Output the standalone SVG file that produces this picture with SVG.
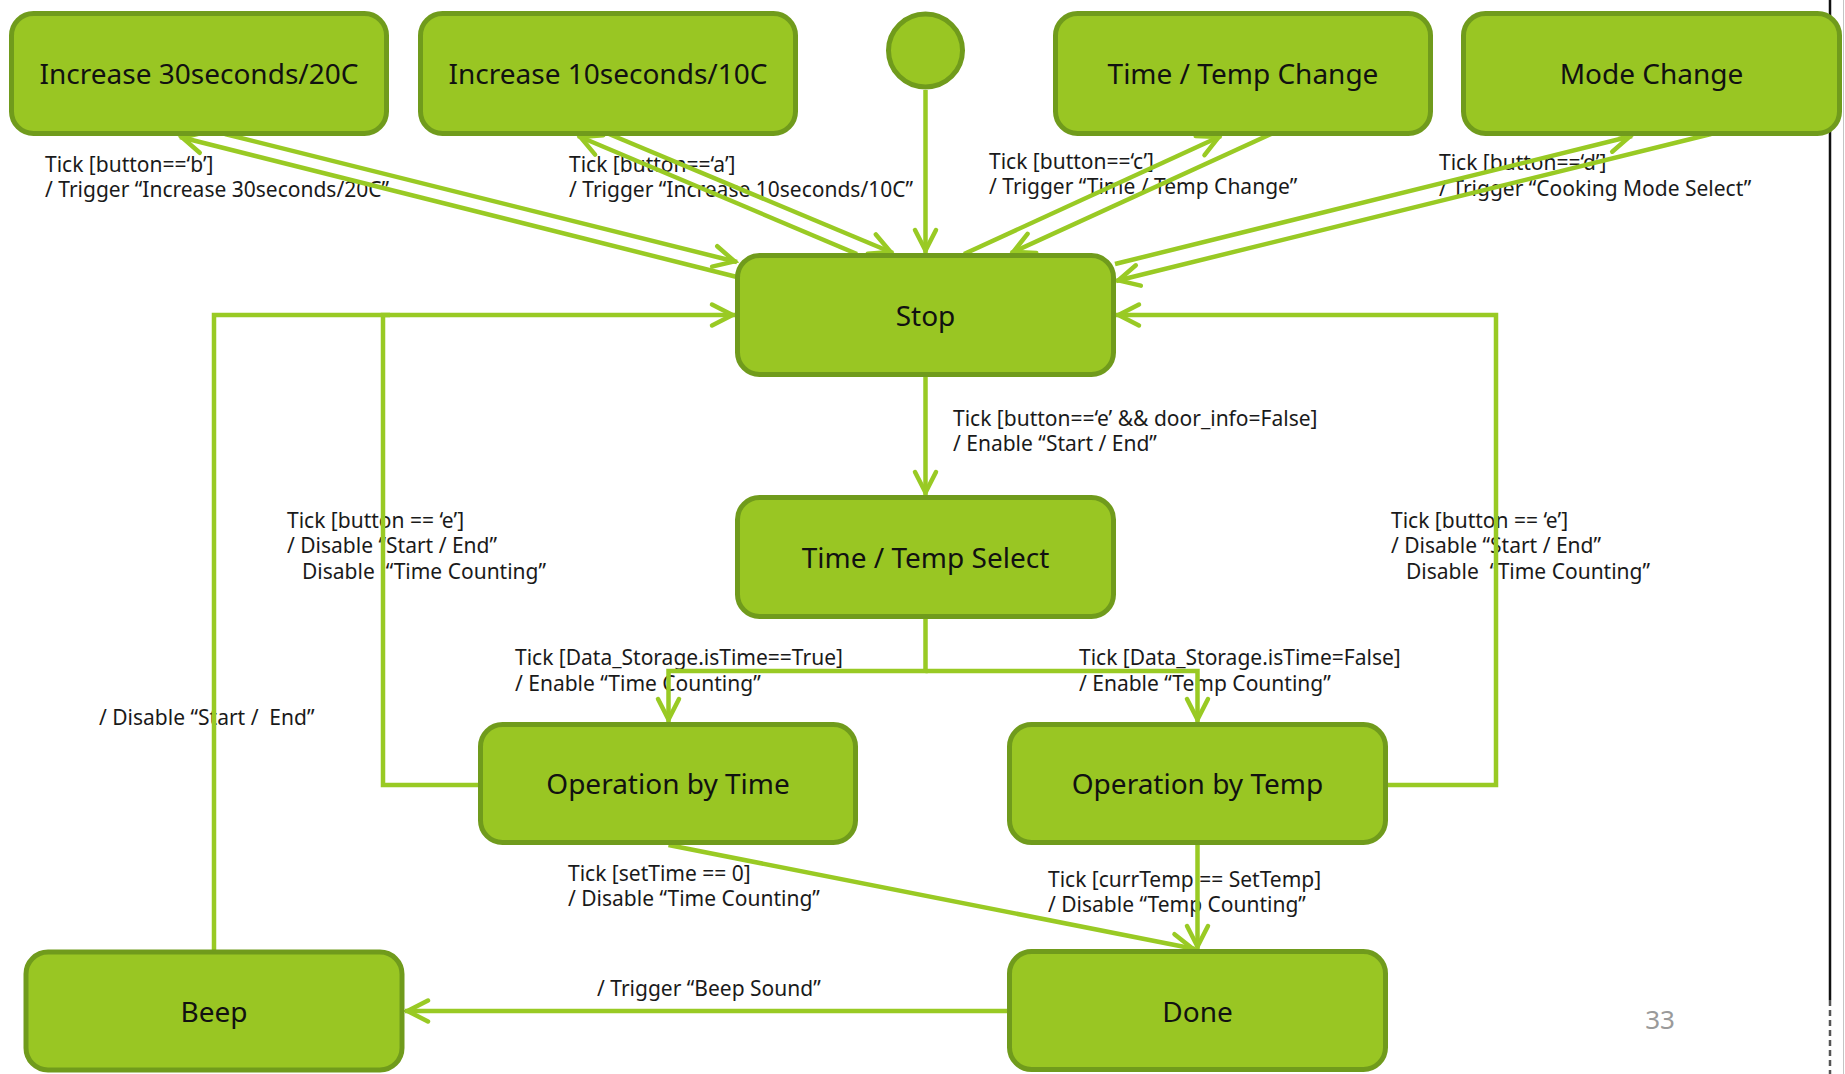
<svg xmlns="http://www.w3.org/2000/svg" width="1845" height="1074" viewBox="0 0 1845 1074">
  <style>
    .node rect, .node ellipse { fill: #99c623; stroke: #709b1c; stroke-width: 5; }
    .title { font-family: "Noto Sans", "Open Sans", sans-serif; font-size: 28px; fill: #111; text-anchor: middle; }
    .lbl { font-family: "Noto Sans", "Open Sans", sans-serif; font-size: 21px; fill: #1a1a1a; white-space: pre; }
    .edge { fill: none; stroke: #99ca24; stroke-width: 4.5; stroke-linejoin: miter; }
    .arr { marker-end: url(#arrow); }
  </style>
  <defs>
    <marker id="arrow" viewBox="-30 -16 34 32" markerWidth="34" markerHeight="32" refX="0" refY="0" orient="auto" markerUnits="userSpaceOnUse">
      <path d="M-23 -10.5 L-2.5 0 L-23 10.5" fill="none" stroke="#99ca24" stroke-width="4.5" stroke-linecap="round"/>
    </marker>
  </defs>

  <rect width="1845" height="1074" fill="#ffffff"/>

  <!-- page frame edge -->
  <g id="frame">
    <line x1="1830" y1="0" x2="1830" y2="1000" stroke="#111" stroke-width="2.5"/>
    <line x1="1830" y1="1000" x2="1830" y2="1074" stroke="#555" stroke-width="2.5" stroke-dasharray="6 4"/>
    <line x1="1843.5" y1="0" x2="1843.5" y2="1074" stroke="#c4c4c4" stroke-width="1"/>
  </g>

  <!-- transition labels -->
  <g id="labels">
    <text class="lbl"><tspan x="45" y="172">Tick [button==‘b’]</tspan><tspan x="45" y="197">/ Trigger “Increase 30seconds/20C”</tspan></text>

    <text class="lbl"><tspan x="569" y="172">Tick [button==‘a’]</tspan><tspan x="569" y="197">/ Trigger “Increase 10seconds/10C”</tspan></text>

    <text class="lbl"><tspan x="989" y="169">Tick [button==‘c’]</tspan><tspan x="989" y="194">/ Trigger “Time / Temp Change”</tspan></text>

    <text class="lbl"><tspan x="1439" y="170">Tick [button==‘d’]</tspan><tspan x="1439" y="196">/ Trigger “Cooking Mode Select”</tspan></text>

    <text class="lbl"><tspan x="953" y="426">Tick [button==‘e’ &amp;&amp; door_info=False]</tspan><tspan x="953" y="451">/ Enable “Start / End”</tspan></text>

    <text class="lbl"><tspan x="287" y="528">Tick [button == ‘e’]</tspan><tspan x="287" y="553">/ Disable “Start / End”</tspan><tspan x="302" y="579">Disable  “Time Counting”</tspan></text>

    <text class="lbl"><tspan x="1391" y="528">Tick [button == ‘e’]</tspan><tspan x="1391" y="553">/ Disable “Start / End”</tspan><tspan x="1406" y="579">Disable  “Time Counting”</tspan></text>

    <text class="lbl" x="99" y="725">/ Disable “Start /  End”</text>

    <text class="lbl"><tspan x="515" y="665">Tick [Data_Storage.isTime==True]</tspan><tspan x="515" y="691">/ Enable “Time Counting”</tspan></text>

    <text class="lbl"><tspan x="1079" y="665">Tick [Data_Storage.isTime=False]</tspan><tspan x="1079" y="691">/ Enable “Temp Counting”</tspan></text>

    <text class="lbl"><tspan x="568" y="881">Tick [setTime == 0]</tspan><tspan x="568" y="906">/ Disable “Time Counting”</tspan></text>

    <text class="lbl"><tspan x="1048" y="887">Tick [currTemp == SetTemp]</tspan><tspan x="1048" y="912">/ Disable “Temp Counting”</tspan></text>

    <text class="lbl" x="597" y="996">/ Trigger “Beep Sound”</text>
  </g>

  <!-- transitions -->
  <g id="connectors">
    <!-- Stop <-> Increase 30seconds/20C -->
    <path class="edge arr" d="M225 134 L737 262"/>
    <path class="edge arr" d="M737 277 L180 137"/>
    <!-- Stop <-> Increase 10seconds/10C -->
    <path class="edge arr" d="M609 134 L893 253"/>
    <path class="edge arr" d="M857 254 L578 136"/>
    <!-- initial -> Stop -->
    <path class="edge arr" d="M925.5 90 L925.5 253"/>
    <!-- Stop <-> Time / Temp Change -->
    <path class="edge arr" d="M964 254 L1221 136"/>
    <path class="edge arr" d="M1271 134 L1011 253"/>
    <!-- Stop <-> Mode Change -->
    <path class="edge arr" d="M1115 264 L1632 136"/>
    <path class="edge arr" d="M1711 134 L1116 281"/>
    <!-- Stop -> Time / Temp Select -->
    <path class="edge arr" d="M925.5 377 L925.5 495"/>
    <!-- Time / Temp Select -> operations -->
    <path class="edge arr" d="M925.5 619 V671 H668.5 V722"/>
    <path class="edge arr" d="M925.5 671 H1197.5 V722"/>
    <!-- operations back to Stop -->
    <path class="edge arr" d="M478 785 H383 V315 H735"/>
    <path class="edge arr" d="M1388 785 H1496 V315 H1116"/>
    <!-- Beep back to Stop -->
    <path class="edge" d="M214 950 V315 H390"/>
    <!-- operations -> Done -->
    <path class="edge arr" d="M668.5 845 L1195 949"/>
    <path class="edge arr" d="M1197.5 845 L1197.5 949"/>
    <!-- Done -> Beep -->
    <path class="edge arr" d="M1007 1011 H405"/>
  </g>

  <!-- states -->
  <g id="node-inc30" class="node">
    <rect x="11.5" y="13.5" width="375" height="120" rx="22"/>
    <text class="title" x="199" y="83.5">Increase 30seconds/20C</text>
  </g>
  <g id="node-inc10" class="node">
    <rect x="420.5" y="13.5" width="375" height="120" rx="22"/>
    <text class="title" x="608" y="83.5">Increase 10seconds/10C</text>
  </g>
  <g id="node-initial" class="node">
    <ellipse cx="925.5" cy="50.5" rx="37" ry="36.5"/>
  </g>
  <g id="node-ttchange" class="node">
    <rect x="1055.5" y="13.5" width="375" height="120" rx="22"/>
    <text class="title" x="1243" y="83.5">Time / Temp Change</text>
  </g>
  <g id="node-mode" class="node">
    <rect x="1463.5" y="13.5" width="376" height="120" rx="22"/>
    <text class="title" x="1651.5" y="83.5">Mode Change</text>
  </g>
  <g id="node-stop" class="node">
    <rect x="737.5" y="255.5" width="376" height="119" rx="22"/>
    <text class="title" x="925.5" y="325.5">Stop</text>
  </g>
  <g id="node-ttselect" class="node">
    <rect x="737.5" y="497.5" width="376" height="119" rx="22"/>
    <text class="title" x="925.5" y="567.5">Time / Temp Select</text>
  </g>
  <g id="node-optime" class="node">
    <rect x="480.5" y="724.5" width="375" height="118" rx="22"/>
    <text class="title" x="668" y="794">Operation by Time</text>
  </g>
  <g id="node-optemp" class="node">
    <rect x="1009.5" y="724.5" width="376" height="118" rx="22"/>
    <text class="title" x="1197.5" y="794">Operation by Temp</text>
  </g>
  <g id="node-beep" class="node">
    <rect x="26" y="952" width="376" height="118" rx="22"/>
    <text class="title" x="214" y="1021.5">Beep</text>
  </g>
  <g id="node-done" class="node">
    <rect x="1009.5" y="951.5" width="376" height="118" rx="22"/>
    <text class="title" x="1197.5" y="1021.5">Done</text>
  </g>

  <!-- page number -->
  <text x="1660" y="1029" font-family="Noto Sans, sans-serif" font-size="26" fill="#9a9a9a" text-anchor="middle">33</text>
</svg>
